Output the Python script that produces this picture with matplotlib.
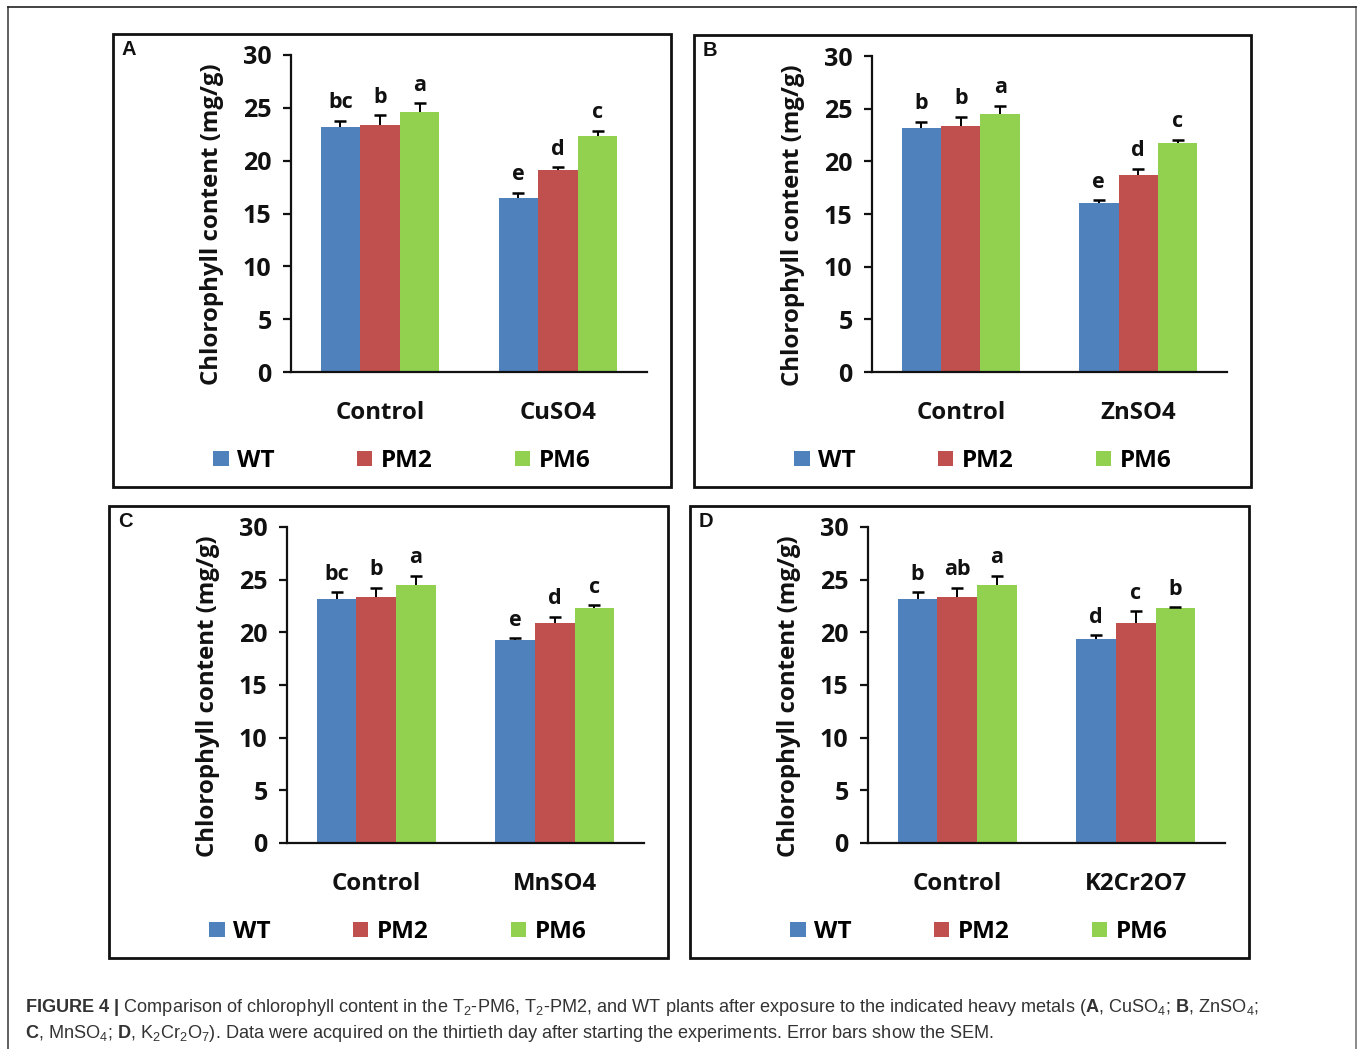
import numpy as np
import matplotlib
matplotlib.use("Agg")
import matplotlib.pyplot as plt
from matplotlib.patches import Rectangle, Patch
from matplotlib.lines import Line2D

plt.rcParams['font.family'] = ['Open Sans', 'DejaVu Sans']
plt.rcParams['mathtext.fontset'] = 'custom'
plt.rcParams['mathtext.rm'] = 'Liberation Sans:weight=normal'
plt.rcParams['mathtext.it'] = 'Liberation Sans:style=italic'
plt.rcParams['mathtext.bf'] = 'Liberation Sans:weight=bold'

# ---------------- data ----------------
series = ["WT", "PM2", "PM6"]
colors = ["#4F81BD", "#C0504D", "#92D050"]
panel_labels = ["A", "B", "C", "D"]
categories_A = ["Control", "CuSO4"]
categories_B = ["Control", "ZnSO4"]
categories_C = ["Control", "MnSO4"]
categories_D = ["Control", "K2Cr2O7"]

# values [Control, treatment] per series
A_WT = [23.2, 16.5];  A_WT_err = [0.6, 0.45]
A_PM2 = [23.4, 19.1]; A_PM2_err = [0.9, 0.3]
A_PM6 = [24.6, 22.3]; A_PM6_err = [0.85, 0.55]
A_letters = [["bc", "e"], ["b", "d"], ["a", "c"]]

B_WT = [23.2, 16.0];  B_WT_err = [0.55, 0.3]
B_PM2 = [23.4, 18.7]; B_PM2_err = [0.85, 0.6]
B_PM6 = [24.5, 21.7]; B_PM6_err = [0.8, 0.35]
B_letters = [["b", "e"], ["b", "d"], ["a", "c"]]

C_WT = [23.2, 19.3];  C_WT_err = [0.6, 0.15]
C_PM2 = [23.4, 20.9]; C_PM2_err = [0.85, 0.6]
C_PM6 = [24.5, 22.3]; C_PM6_err = [0.85, 0.25]
C_letters = [["bc", "e"], ["b", "d"], ["a", "c"]]

D_WT = [23.2, 19.4];  D_WT_err = [0.6, 0.3]
D_PM2 = [23.4, 20.9]; D_PM2_err = [0.85, 1.1]
D_PM6 = [24.5, 22.3]; D_PM6_err = [0.85, 0.1]
D_letters = [["b", "d"], ["ab", "c"], ["a", "b"]]

yticks = [0, 5, 10, 15, 20, 25, 30]
ylabel = "Chlorophyll content (mg/g)"

panels = [
    (categories_A, [A_WT, A_PM2, A_PM6], [A_WT_err, A_PM2_err, A_PM6_err], A_letters),
    (categories_B, [B_WT, B_PM2, B_PM6], [B_WT_err, B_PM2_err, B_PM6_err], B_letters),
    (categories_C, [C_WT, C_PM2, C_PM6], [C_WT_err, C_PM2_err, C_PM6_err], C_letters),
    (categories_D, [D_WT, D_PM2, D_PM6], [D_WT_err, D_PM2_err, D_PM6_err], D_letters),
]

# ---------------- layout ----------------
W, H = 1360, 1049
fig = plt.figure(figsize=(W / 100, H / 100), dpi=100)

def fx(x):
    return x / W

def fy(y):
    return 1 - y / H

boxes = [(113, 34, 671, 487), (694, 35, 1251, 487),
         (109, 506, 668, 958), (690, 506, 1249, 958)]

bw = 0.2222
for (cats, vals, errs, letters), (bx0, by0, bx1, by1), plab in zip(panels, boxes, panel_labels):
    left = bx0 + 178
    right = bx1 - 24
    top = by0 + 21
    bottom = by1 - 115
    ax = fig.add_axes([fx(left), fy(bottom), (right - left) / W, (bottom - top) / H])
    x = np.arange(len(cats))
    for i, (v, e, c) in enumerate(zip(vals, errs, colors)):
        pos = x + (i - 1) * bw
        ax.bar(pos, v, bw, color=c, label=series[i], zorder=2)
        eb = ax.errorbar(pos, v, yerr=[np.zeros(len(e)), e], fmt="none", ecolor="black",
                         elinewidth=1.4, capsize=4, capthick=1.8, zorder=3)
        # keep only the upper caps (T-shaped error bars)
        for cl in eb.lines[1]:
            if np.allclose(np.asarray(cl.get_ydata(), float), np.asarray(v, float)):
                cl.set_visible(False)
        for p, vv, ee, lt in zip(pos, v, e, letters[i]):
            ax.annotate(lt, (p, vv + ee), xytext=(0, 9), textcoords="offset points",
                        ha="center", va="baseline", fontsize=15.5, fontweight="bold",
                        color="#111111")
    ax.set_xlim(-0.5, 1.5)
    ax.set_ylim(0, 30)
    ax.set_yticks(yticks, labels=[str(t) for t in yticks], fontsize=18, fontweight="bold")
    ax.set_xticks(x, labels=cats, fontsize=17.3, fontweight="bold")
    for s in ["top", "right"]:
        ax.spines[s].set_visible(False)
    for s in ["left", "bottom"]:
        ax.spines[s].set_linewidth(1.6)
        ax.spines[s].set_color("#111111")
    ax.tick_params(axis="y", length=6, width=1.6, pad=8, colors="#111111")
    ax.tick_params(axis="x", length=0, pad=21, colors="#111111")
    ax.patch.set_alpha(0)

    fig.text(fx(bx0 + 99), fy(by0 + 190), ylabel, rotation=90, ha="center", va="center",
             fontsize=17.3, fontweight="bold", color="#111111")
    fig.text(fx(bx0 + 9), fy(by0 + 6), plab, ha="left", va="top", fontsize=14.5,
             fontweight="bold", family="Liberation Sans", color="#111111")

    handles = [Patch(facecolor=c, edgecolor="none") for c in colors]
    fig.legend(handles, series, loc="center", bbox_to_anchor=(fx(bx0 + 289), fy(by1 - 26)),
               bbox_transform=fig.transFigure, ncol=3, frameon=False,
               prop={"weight": "bold", "size": 17.5}, handlelength=0.62, handleheight=0.62,
               handletextpad=0.35, columnspacing=3.4, borderpad=0, borderaxespad=0)

    fig.patches.append(Rectangle((fx(bx0), fy(by1)), (bx1 - bx0) / W, (by1 - by0) / H,
                                 transform=fig.transFigure, fill=False, lw=2.0,
                                 ec="#111111", zorder=5))

# outer frame (no bottom line)
fig.add_artist(Line2D([fx(8), fx(8)], [fy(7), 0], transform=fig.transFigure, color="#444444", lw=1.2))
fig.add_artist(Line2D([fx(1356), fx(1356)], [fy(7), 0], transform=fig.transFigure, color="#777777", lw=1.2))
fig.add_artist(Line2D([fx(8), fx(1356)], [fy(7), fy(7)], transform=fig.transFigure, color="#222222", lw=1.2))

# caption
line1 = (r"$\mathbf{FIGURE\ 4\ |}$ Comparison of chlorophyll content in the T$_2$-PM6, T$_2$-PM2, "
         r"and WT plants after exposure to the indicated heavy metals ($\mathbf{A}$, CuSO$_4$; "
         r"$\mathbf{B}$, ZnSO$_4$;")
line2 = (r"$\mathbf{C}$, MnSO$_4$; $\mathbf{D}$, K$_2$Cr$_2$O$_7$). Data were acquired on the "
         r"thirtieth day after starting the experiments. Error bars show the SEM.")
fig.text(fx(25), fy(1008), line1, ha="left", va="center", fontsize=13.1,
         family="Liberation Sans", color="#333333")
fig.text(fx(25), fy(1034), line2, ha="left", va="center", fontsize=13.1,
         family="Liberation Sans", color="#333333")

fig.savefig("out.png", dpi=100)
